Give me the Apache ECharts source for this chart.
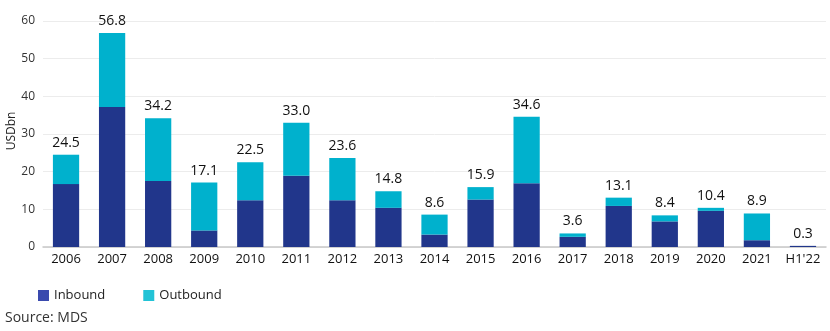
<!DOCTYPE html>
<html>
<head>
<meta charset="utf-8">
<script src="https://cdn.jsdelivr.net/npm/echarts@6/dist/echarts.min.js"></script>
<style>
html,body{margin:0;padding:0;background:#fff;}
#chart{width:830px;height:331px;}
</style>
</head>
<body>
<div id="chart"></div>
<script>
// Deal values by year, USD bn
const years = ['2006','2007','2008','2009','2010','2011','2012','2013','2014','2015','2016','2017','2018','2019','2020','2021',"H1'22"];
const totals = [24.5, 56.8, 34.2, 17.1, 22.5, 33.0, 23.6, 14.8, 8.6, 15.9, 34.6, 3.6, 13.1, 8.4, 10.4, 8.9, 0.3];
const inbound = [16.7, 37.2, 17.5, 4.4, 12.4, 18.9, 12.4, 10.4, 3.3, 12.6, 16.9, 2.7, 10.9, 6.8, 9.6, 1.8, 0.3];
const yTicks = [0, 10, 20, 30, 40, 50, 60];
const unitLabel = 'USDbn';

// Outbound is the remainder of each year's total
const outbound = totals.map((t, i) => Math.round((t - inbound[i]) * 10) / 10);

const FONT = '"Open Sans", "Noto Sans", sans-serif';
const chart = echarts.init(document.getElementById('chart'));
chart.setOption({
  animation: false,
  textStyle: { fontFamily: FONT },
  grid: { left: 43, right: 4, top: 21, bottom: 84, containLabel: false, outerBoundsMode: 'none' },
  legend: {
    left: 33, top: 284, itemWidth: 11, itemHeight: 11, itemGap: 38,
    icon: 'rect',
    textStyle: { fontSize: 13, color: '#222', fontFamily: FONT },
    data: [
      { name: 'Inbound', itemStyle: { color: '#3a4aae' } },
      { name: 'Outbound', itemStyle: { color: '#22c3d6' } }
    ]
  },
  graphic: [
    {
      type: 'text', left: 5, top: 311,
      style: { text: 'Source: MDS', fontSize: 14, fill: '#333', fontFamily: FONT }
    },
    {
      // rotated unit caption beside the value axis
      type: 'text', x: 12, y: 131, rotation: Math.PI / 2,
      style: { text: unitLabel, fontSize: 12, fill: '#222', fontFamily: FONT,
               align: 'center', verticalAlign: 'middle' }
    }
  ],
  xAxis: {
    type: 'category', data: years,
    axisTick: { show: false },
    axisLine: { lineStyle: { color: '#c8c8c8', width: 1.5 } },
    axisLabel: { interval: 0, fontSize: 13, color: '#111', margin: 6, fontFamily: FONT }
  },
  yAxis: {
    type: 'value', min: yTicks[0], max: yTicks[yTicks.length - 1], interval: 10,
    axisLabel: { fontSize: 12, color: '#333', margin: 8, fontFamily: FONT },
    splitLine: { lineStyle: { color: '#ececec' } },
    axisLine: { show: false }, axisTick: { show: false }
  },
  series: [
    {
      name: 'Inbound', type: 'bar', stack: 'deals', data: inbound,
      barWidth: '57%',
      itemStyle: { color: '#21368b' }
    },
    {
      name: 'Outbound', type: 'bar', stack: 'deals', data: outbound,
      barWidth: '57%',
      itemStyle: { color: '#00b1cd' },
      label: {
        show: true, position: 'top', distance: 5,
        fontSize: 14, color: '#111', fontWeight: 500, fontFamily: FONT,
        formatter: p => totals[p.dataIndex].toFixed(1)
      }
    }
  ]
});
</script>
</body>
</html>
